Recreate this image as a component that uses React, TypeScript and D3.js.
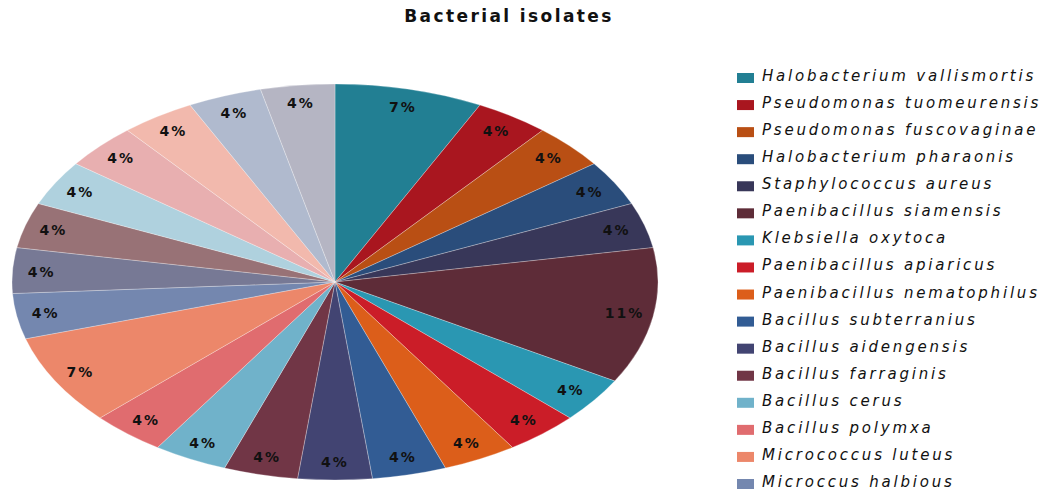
import React, {useRef, useEffect} from 'react'
import * as d3 from 'd3'

// isolate counts per slice, clockwise from 12 o'clock (27 isolates in total)
const counts = [2, 1, 1, 1, 1, 3, 1, 1, 1, 1, 1, 1, 1, 1, 2, 1, 1, 1, 1, 1, 1, 1, 1]

// only the first 16 legend entries are visible in the source figure
const names = [
	'Halobacterium vallismortis',
	'Pseudomonas tuomeurensis',
	'Pseudomonas fuscovaginae',
	'Halobacterium pharaonis',
	'Staphylococcus aureus',
	'Paenibacillus siamensis',
	'Klebsiella oxytoca',
	'Paenibacillus apiaricus',
	'Paenibacillus nematophilus',
	'Bacillus subterranius',
	'Bacillus aidengensis',
	'Bacillus farraginis',
	'Bacillus cerus',
	'Bacillus polymxa',
	'Micrococcus luteus',
	'Microccus halbious',
]

const colors = [
	'#227f93', '#a9161f', '#b94f14', '#2a4d7b', '#383759', '#5e2c38',
	'#2a97b2', '#cb1d28', '#dc5e1a', '#325c94', '#424472', '#713646',
	'#70b2ca', '#e06c6f', '#ec876a', '#7487af', '#777995', '#987276',
	'#afd1de', '#e8afb0', '#f2b9ad', '#b0bace', '#b5b5c3',
]

export default function App() {
	const ref = useRef(null)

	const layout = {width: 1062, height: 492, cx: 335, cy: 282, rx: 323, ry: 198}

	useEffect(() => {
		const svg = d3.select(ref.current)
		svg.selectAll('*').remove()

		const total = d3.sum(counts)
		const data = counts.map((c, i) => ({i, c}))

		const pie = d3.pie().value(d => d.c).sort(null)
		const arcs = pie(data)

		const k = layout.ry / layout.rx
		const arc = d3.arc().innerRadius(0).outerRadius(layout.rx)
		const labelArc = d3.arc().innerRadius(layout.rx * 0.91).outerRadius(layout.rx * 0.91)

		const g = svg.append('g')
			.attr('transform', `translate(${layout.cx},${layout.cy}) scale(1,${k})`)

		g.selectAll('path')
			.data(arcs)
			.join('path')
			.attr('d', arc)
			.attr('fill', d => colors[d.data.i])
			.attr('stroke', '#ffffff')
			.attr('stroke-opacity', 0.35)
			.attr('stroke-width', 0.8)
			.attr('vector-effect', 'non-scaling-stroke')

		svg.append('g')
			.selectAll('text')
			.data(arcs)
			.join('text')
			.attr('x', d => layout.cx + labelArc.centroid(d)[0])
			.attr('y', d => layout.cy + labelArc.centroid(d)[1] * k)
			.attr('text-anchor', 'middle')
			.attr('dominant-baseline', 'central')
			.style('font-family', 'DejaVu Sans')
			.style('font-weight', 'bold')
			.style('font-size', '14px')
			.style('letter-spacing', '2px')
			.attr('fill', '#111')
			.text(d => Math.round(d.data.c / total * 100) + '%')

		// title
		svg.append('text')
			.attr('x', 509)
			.attr('y', 16)
			.attr('text-anchor', 'middle')
			.attr('dominant-baseline', 'central')
			.style('font-family', 'DejaVu Sans')
			.style('font-weight', 'bold')
			.style('font-size', '17px')
			.style('letter-spacing', '2.4px')
			.attr('fill', '#111')
			.text('Bacterial isolates')

		// legend
		const yScale = d3.scalePoint()
			.domain(names)
			.range([76, 482])

		const legend = svg.append('g')
			.selectAll('g')
			.data(names)
			.join('g')
			.attr('transform', d => `translate(737,${yScale(d)})`)

		legend.append('rect')
			.attr('x', 0)
			.attr('y', -3)
			.attr('width', 17)
			.attr('height', 10)
			.attr('fill', (d, i) => colors[i])

		legend.append('text')
			.attr('x', 25)
			.attr('y', 0)
			.attr('dominant-baseline', 'central')
			.style('font-family', 'DejaVu Sans')
			.style('font-style', 'italic')
			.style('font-size', '15px')
			.style('letter-spacing', '2.8px')
			.attr('fill', '#111')
			.text(d => d)
	}, [])

	return (
		<svg width={layout.width} height={layout.height} ref={ref}
			style={{position: 'absolute', left: 0, top: 0, background: '#fff'}} />
	)
}
